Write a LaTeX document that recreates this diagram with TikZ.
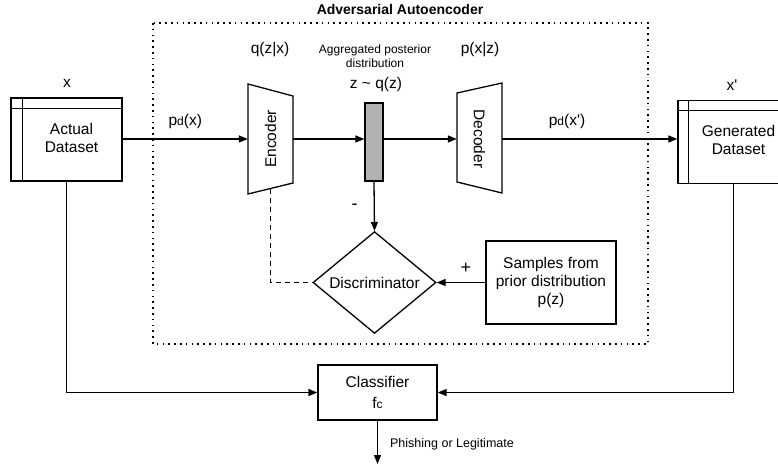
\documentclass[tikz,border=0pt]{standalone}
\usepackage{fontspec}
\setmainfont{Liberation Sans}
\newfontfamily\plainsans{Liberation Sans}
\usetikzlibrary{arrows.meta,shapes.geometric}
\newcommand{\sq}{{\plainsans'}}
\begin{document}
\begin{tikzpicture}[x=1pt,y=-1pt,
  every node/.style={font=\fontsize{15.5}{18}\selectfont, inner sep=0pt},
  line/.style={line width=1.3pt},
  arr/.style={line width=1.3pt,-{Triangle[length=9pt,width=7pt]}},
  dsbox/.style={draw, line width=1.3pt, minimum width=111pt, minimum height=83pt, align=center},
  block/.style={draw, line width=1.3pt, align=center},
  lab/.style={font=\fontsize{15.5}{18}\selectfont}
]
\useasboundingbox (0,0) rectangle (778,465);
% frame
\node[font=\bfseries\fontsize{14}{16}\selectfont] (title) at (400,9) {Adversarial Autoencoder};
\draw[line width=1.3pt, dash pattern=on 1.6pt off 4.2pt] (153,23) rectangle (648,344);

% Actual dataset
\node[dsbox] (ad) at (66.5,139.5) {\hspace{10pt}\begin{tabular}{@{}c@{}}Actual\\[0pt]Dataset\end{tabular}};
\draw[line] (ad.north west) ++(0,11) -- ++(111,0);
\draw[line] (ad.north west) ++(12,0) -- ++(0,83);
\node[lab] (xlab) at (67,83) {x};

% Generated dataset
\begin{scope}
\clip (600,90) rectangle (778,200);
\node[dsbox] (gd) at (733.5,142) {\hspace{10pt}\begin{tabular}{@{}c@{}}Generated\\[0pt]Dataset\end{tabular}};
\draw[line] (gd.north west) ++(0,11) -- ++(111,0);
\draw[line] (gd.north west) ++(11,0) -- ++(0,83);
\end{scope}
\node[lab] (xplab) at (732,85) {x\sq};

% Encoder
\node[minimum width=45pt, minimum height=110pt] (enc) at (270.5,139) {\rotatebox{90}{Encoder}};
\draw[line, line join=miter] (248,84) -- (293,96) -- (293,183) -- (248,194) -- cycle;
\node[lab] (qzx) at (270,50) {q(z|x)};

% latent bar
\node[draw, line width=1.3pt, fill=black!30, minimum width=18pt, minimum height=78pt] (bar) at (374,142) {};
\node[font=\fontsize{12}{13}\selectfont, align=center] (agg) at (375,56) {Aggregated posterior\\[1pt]distribution};
\node[lab] (zq) at (376,84) {z \textasciitilde{} q(z)};

% Decoder
\node[minimum width=45pt, minimum height=110pt] (dec) at (479.5,139) {\rotatebox{-90}{Decoder}};
\draw[line, line join=miter] (457,93) -- (502,83) -- (502,193) -- (457,182) -- cycle;
\node[lab] (pxz) at (480,50) {p(x|z)};

% Discriminator
\node[draw, line width=1.3pt, diamond, minimum width=123pt, minimum height=95pt] (disc) at (374.5,282.5) {Discriminator};

% Samples
\node[block, minimum width=130pt, minimum height=83pt] (samp) at (551,282.5) {Samples from\\[0pt]prior distribution\\[0pt]p(z)};

% Classifier
\node[block, minimum width=119pt, minimum height=55pt] (cls) at (377.5,392.5) {};
\node (clst) at (377.5,382) {Classifier};
\node (fc) at (377.5,403) {f{\fontsize{12}{12}\selectfont c}};
\coordinate (out) at (377.5,464);
\coordinate (encb) at (270.5,189);

% connectors
\draw[arr] (ad.east |- enc.west) -- node[pos=0.5, above=10pt] {p{\fontsize{12}{12}\selectfont d}(x)} (enc.west);
\draw[arr] (enc.east) -- (bar.west |- enc.east);
\draw[arr] (bar.east |- enc.east) -- (dec.west);
\draw[arr] (dec.east) -- node[pos=0.37, above=10pt] {p{\fontsize{12}{12}\selectfont d}(x\sq)} (gd.west |- dec.east);
\draw[arr] (bar.south) -- node[pos=0.5, left=16pt, font=\fontsize{18}{18}\selectfont] {-} (disc.north);
\draw[arr] (samp.west) -- node[pos=0.4, above=8pt, font=\fontsize{18}{18}\selectfont] {+} (disc.east);
\draw[line, dash pattern=on 5pt off 4pt] (encb) |- (disc.west);
\draw[arr] (ad.south) |- (cls.west);
\draw[arr] (gd.south) |- (cls.east);
\draw[arr] (cls.south) -- node[pos=0.55, right=12pt, font=\fontsize{12.5}{14}\selectfont] {Phishing or Legitimate} (out);
\end{tikzpicture}
\end{document}
